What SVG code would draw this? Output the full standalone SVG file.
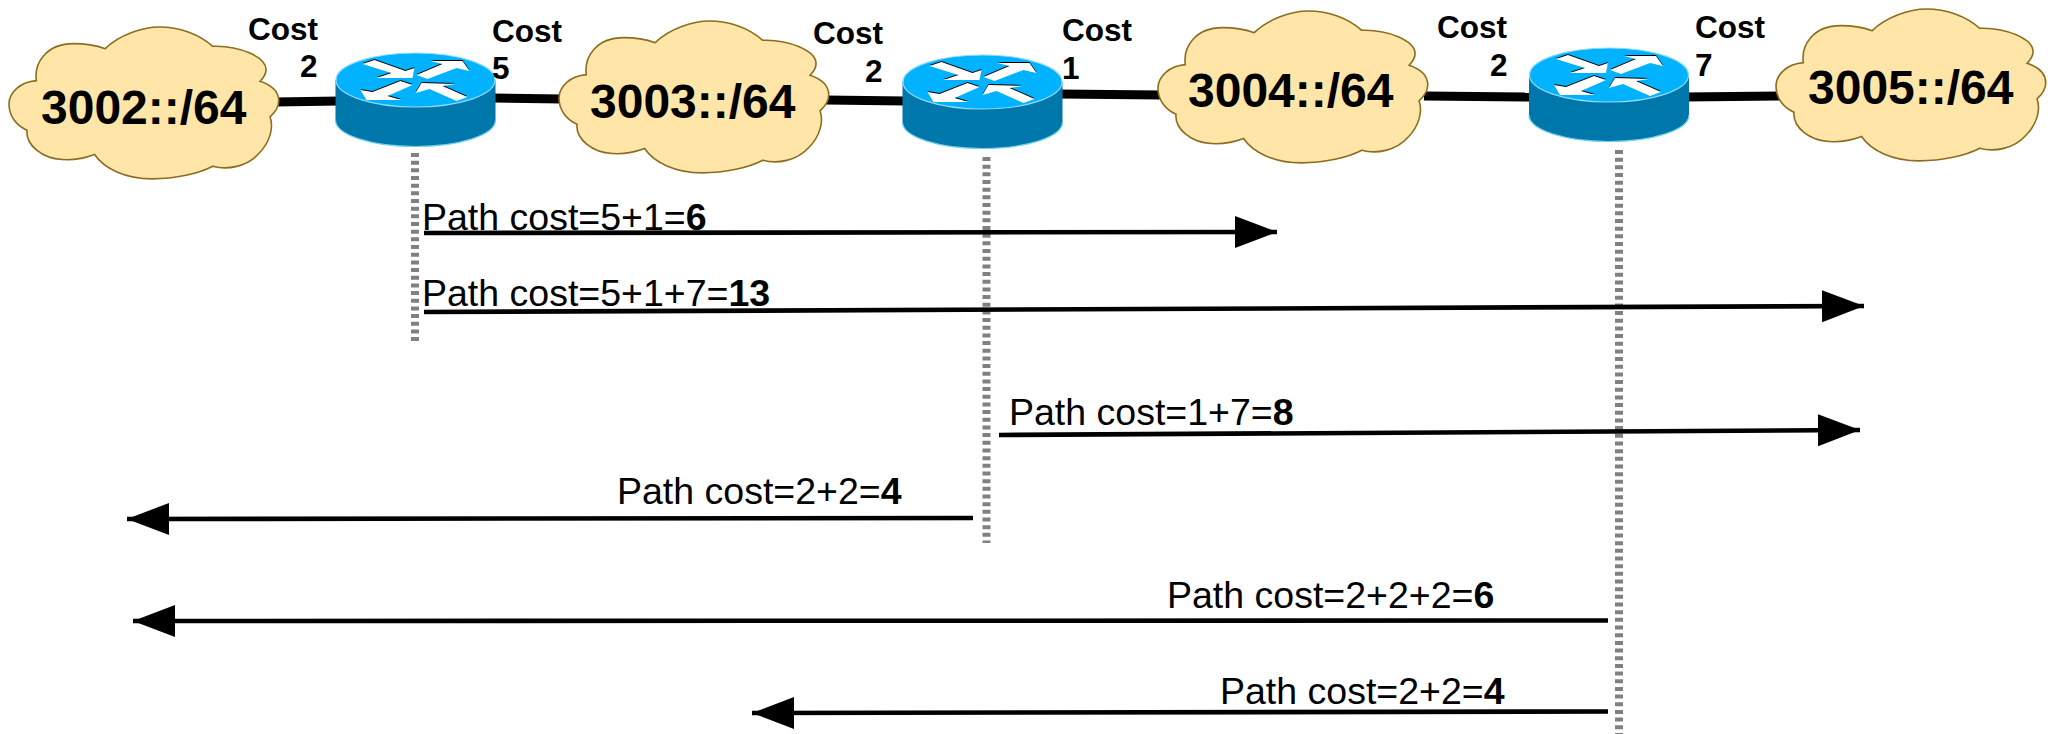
<svg xmlns="http://www.w3.org/2000/svg" xmlns:xlink="http://www.w3.org/1999/xlink" width="2048" height="734" viewBox="0 0 2048 734">
<style>
text{font-family:"Liberation Sans",Arial,sans-serif;fill:#000}
.net{font-size:48px;font-weight:700}
.cost{font-size:31.5px;font-weight:700}
.path{font-size:37.5px}
.path tspan{font-weight:700}
.cloud{fill:#ffe6a8;stroke:#8a6d1f;stroke-width:1.6;vector-effect:non-scaling-stroke}
.link{stroke:#000;stroke-width:9;fill:none}
.arr{stroke:#000;stroke-width:4.6;fill:none;marker-end:url(#head)}
.drop{stroke:#808080;stroke-width:8;stroke-dasharray:4 3.67;fill:none}
</style>
<defs>
<marker id="head" markerUnits="userSpaceOnUse" markerWidth="46" markerHeight="36" refX="42" refY="16" orient="auto"><path d="M0 0L42 16L0 32Z" fill="#000"/></marker>
<path id="cloudshape" class="cloud" d="M289 65C330 25 400 0 452 0C510 0 570 20 612 58C690 55 772 90 772 128C772 140 765 152 754 163C790 175 810 195 810 222C810 240 800 255 784 270C795 300 785 345 750 380C715 420 655 430 612 418C570 440 500 456 430 456C350 456 285 425 257 383C225 395 190 400 160 398C100 395 50 355 54 310C20 295 0 265 0 232C0 195 35 165 82 161C75 110 110 50 195 50C230 50 260 55 289 65Z"/>
<g id="routershape">
<path d="M0 27V67C0 82 36 93.500 80 93.500C124 93.500 160 82 160 67V27Z" fill="#0077aa"/>
<path d="M0 67C0 82 36 93.500 80 93.500C124 93.500 160 82 160 67" fill="none" stroke="#6fd0f5" stroke-width="1.2"/>
<ellipse cx="80" cy="27" rx="79.500" ry="27" fill="#00b2ff" stroke="#8fdcff" stroke-width="1.2"/>
<g fill="#000" transform="translate(0,-1)">
<path d="M27 11L39 7L70 18L79 15L77 25L41 25L56 20Z"/>
<path d="M81 22L107 11L95 8L127 8L134 18L121 15L92 26Z"/>
<path d="M25 37L37 39L65 28L77 32L52 43L66 47L31 47Z"/>
<path d="M80 40L86 30L120 31L107 33L132 44L121 48L94 36Z"/>
</g>
<g fill="#fff">
<path d="M27 11L39 7L70 18L79 15L77 25L41 25L56 20Z"/>
<path d="M81 22L107 11L95 8L127 8L134 18L121 15L92 26Z"/>
<path d="M25 37L37 39L65 28L77 32L52 43L66 47L31 47Z"/>
<path d="M80 40L86 30L120 31L107 33L132 44L121 48L94 36Z"/>
</g>
</g>
</defs>
<g id="connectors">
<path class="link" d="M275 102L340 101"/>
<path class="link" d="M492 98L562 99"/>
<path class="link" d="M826 100L906 101"/>
<path class="link" d="M1058 94L1162 95"/>
<path class="link" d="M1424 96L1533 97"/>
<path class="link" d="M1684 97L1780 96"/>
<path class="drop" d="M415 153V342"/>
<path class="drop" d="M986.500 157V543"/>
<path class="drop" d="M1619 150V734"/>
<path class="arr" d="M424 233L1277 232"/>
<path class="arr" d="M424 312L1864 306"/>
<path class="arr" d="M999 435L1860 430"/>
<path class="arr" d="M973 518L127 519"/>
<path class="arr" d="M1608 620.500L133 621"/>
<path class="arr" d="M1608 711.500L752 713"/>
</g>
<g id="net-3002"><use xlink:href="#cloudshape" href="#cloudshape" transform="translate(9,27) scale(.333,.333)"/><text class="net" x="41" y="124">3002::/64</text></g>
<g id="net-3003"><use xlink:href="#cloudshape" href="#cloudshape" transform="translate(559,21) scale(.333,.333)"/><text class="net" x="590" y="118">3003::/64</text></g>
<g id="net-3004"><use xlink:href="#cloudshape" href="#cloudshape" transform="translate(1158,11) scale(.333,.333)"/><text class="net" x="1188" y="107">3004::/64</text></g>
<g id="net-3005"><use xlink:href="#cloudshape" href="#cloudshape" transform="translate(1776,9) scale(.333,.333)"/><text class="net" x="1808" y="104">3005::/64</text></g>
<g id="router-1"><use xlink:href="#routershape" href="#routershape" transform="translate(335.500,53)"/></g>
<g id="router-2"><use xlink:href="#routershape" href="#routershape" transform="translate(902.500,55)"/></g>
<g id="router-3"><use xlink:href="#routershape" href="#routershape" transform="translate(1529,48)"/></g>
<g id="costs">
<text class="cost" x="248" y="40">Cost</text><text class="cost" x="300" y="77">2</text>
<text class="cost" x="492" y="42">Cost</text><text class="cost" x="492" y="79">5</text>
<text class="cost" x="813" y="44">Cost</text><text class="cost" x="865" y="82">2</text>
<text class="cost" x="1062" y="41">Cost</text><text class="cost" x="1062" y="79">1</text>
<text class="cost" x="1437" y="38">Cost</text><text class="cost" x="1490" y="76">2</text>
<text class="cost" x="1695" y="38">Cost</text><text class="cost" x="1695" y="76">7</text>
</g>
<g id="labels">
<text class="path" x="422" y="230">Path cost=5+1=<tspan>6</tspan></text>
<text class="path" x="422" y="306">Path cost=5+1+7=<tspan>13</tspan></text>
<text class="path" x="1009" y="425">Path cost=1+7=<tspan>8</tspan></text>
<text class="path" x="617" y="504">Path cost=2+2=<tspan>4</tspan></text>
<text class="path" x="1167" y="608">Path cost=2+2+2=<tspan>6</tspan></text>
<text class="path" x="1220" y="704">Path cost=2+2=<tspan>4</tspan></text>
</g>
</svg>
